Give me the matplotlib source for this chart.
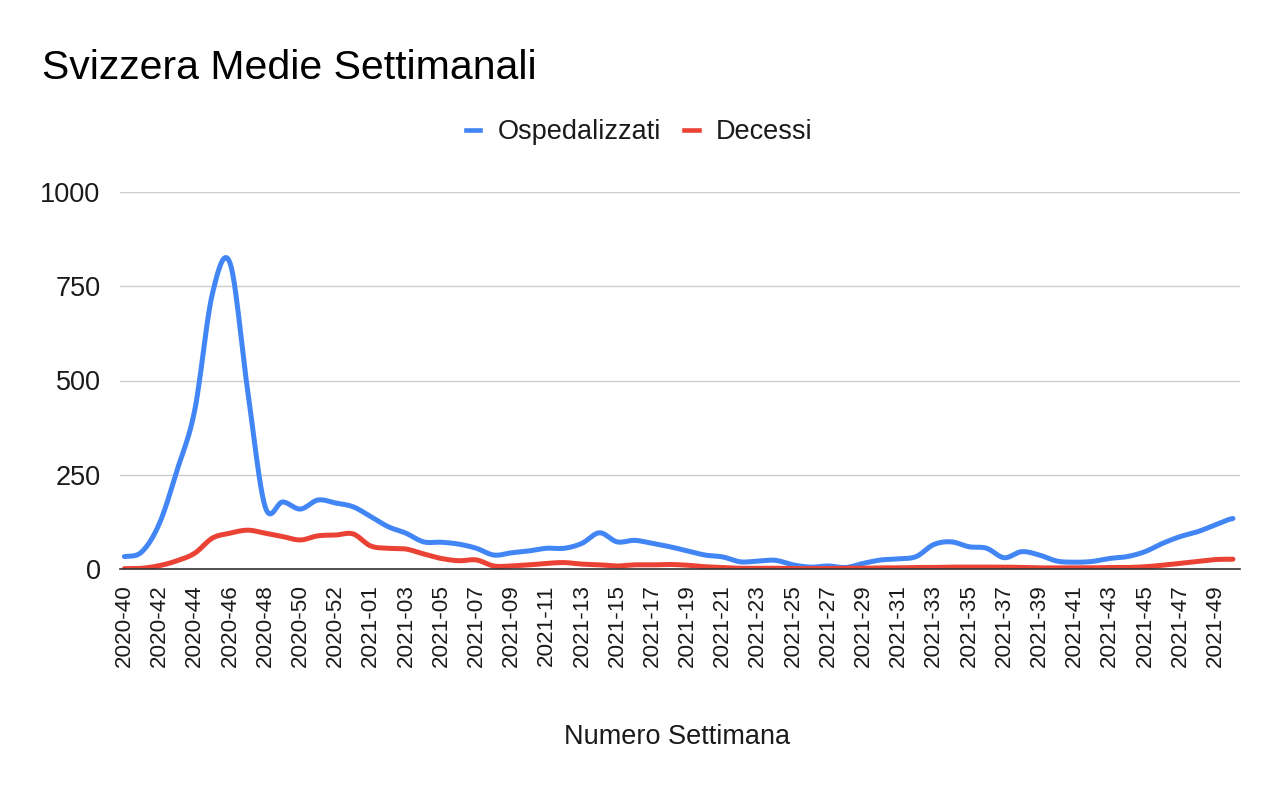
import numpy as np
import matplotlib
matplotlib.use("Agg")
import matplotlib.pyplot as plt
from matplotlib.lines import Line2D

plt.rcParams['font.family'] = ['Liberation Sans', 'DejaVu Sans']

weeks = [f"2020-{w}" for w in range(40, 54)] + [f"2021-{w:02d}" for w in range(1, 51)]

ospedalizzati = [33, 46, 122, 263, 422, 730, 812, 475, 165, 178, 159, 183, 175, 165,
                 139, 112, 95, 72, 71, 66, 55, 37, 43, 48, 55, 55, 68, 96, 72, 76,
                 68, 59, 48, 37, 32, 19, 21, 23, 11, 5, 8, 4, 15, 24, 27, 33,
                 65, 72, 59, 55, 30, 46, 37, 21, 18, 20, 28, 33, 46, 68, 86, 99,
                 117, 134]
decessi = [1, 2, 9, 22, 42, 82, 95, 103, 95, 86, 77, 88, 90, 93,
           61, 55, 53, 40, 28, 22, 24, 8, 8, 11, 15, 17, 13, 11, 8, 11,
           11, 12, 10, 6, 4, 2, 2, 2, 1, 1, 1, 2, 2, 3, 3, 4,
           4, 5, 5, 5, 5, 4, 3, 3, 3, 3, 4, 4, 6, 10, 15, 20,
           25, 26]

yticks = [0, 250, 500, 750, 1000]

BLUE = '#4285F4'
RED = '#EA4335'
TXT = '#1a1a1a'


def smooth(y, n=12):
    y = np.asarray(y, dtype=float)
    x = np.arange(len(y), dtype=float)
    p = np.concatenate([[y[0]], y, [y[-1]]])
    xs, ys = [], []
    for i in range(len(y) - 1):
        p0, p1, p2, p3 = p[i], p[i + 1], p[i + 2], p[i + 3]
        t = np.linspace(0, 1, n, endpoint=False)
        m1 = (p2 - p0) / 2
        m2 = (p3 - p1) / 2
        h00 = 2 * t**3 - 3 * t**2 + 1
        h10 = t**3 - 2 * t**2 + t
        h01 = -2 * t**3 + 3 * t**2
        h11 = t**3 - t**2
        ys.append(h00 * p1 + h10 * m1 + h01 * p2 + h11 * m2)
        xs.append(x[i] + t)
    xs.append([x[-1]])
    ys.append([y[-1]])
    return np.concatenate(xs), np.concatenate(ys)


fig = plt.figure(figsize=(12.8, 7.91), dpi=100)
ax = fig.add_axes([120 / 1280, 1 - 569 / 791, 1120 / 1280, 377 / 791])

for data, col, lab in [(ospedalizzati, BLUE, 'Ospedalizzati'), (decessi, RED, 'Decessi')]:
    sx, sy = smooth(data)
    ax.plot(sx, sy, color=col, lw=3.6, solid_capstyle='round', zorder=3, label=lab)

ax.set_xlim(-0.25, 63.4)
ax.set_ylim(0, 1000)
ax.set_yticks(yticks)
ax.set_yticklabels([str(v) for v in yticks], fontsize=19.5, color=TXT)
ax.set_xticks(range(0, len(weeks), 2))
ax.set_xticklabels(weeks[::2], rotation=90, fontsize=16.2, color=TXT)
ax.tick_params(axis='y', length=0, pad=14)
ax.tick_params(axis='x', length=0, pad=11)
ax.grid(axis='y', color='#cccccc', lw=1)
ax.set_axisbelow(True)
for s in ['top', 'right', 'left']:
    ax.spines[s].set_visible(False)
ax.spines['bottom'].set_color('#333333')
ax.spines['bottom'].set_linewidth(1.2)
ax.spines['bottom'].set_zorder(4)

fig.text(42 / 1280, 1 - 79 / 791, 'Svizzera Medie Settimanali', fontsize=29.5,
         ha='left', va='baseline', color='#000000')
fig.text(677 / 1280, 1 - 744 / 791, 'Numero Settimana', fontsize=19.5,
         ha='center', va='baseline', color=TXT)

handles = [Line2D([], [], color=BLUE, lw=3.3), Line2D([], [], color=RED, lw=3.3)]
fig.legend(handles, ['Ospedalizzati', 'Decessi'], loc='center',
           bbox_to_anchor=(639 / 1280, 1 - 132 / 791), ncol=2, frameon=False,
           fontsize=19.5, handlelength=0.55, handletextpad=0.63, columnspacing=0.85,
           labelcolor=TXT, borderpad=0, borderaxespad=0)

fig.savefig('out.png', dpi=100, facecolor='white')
